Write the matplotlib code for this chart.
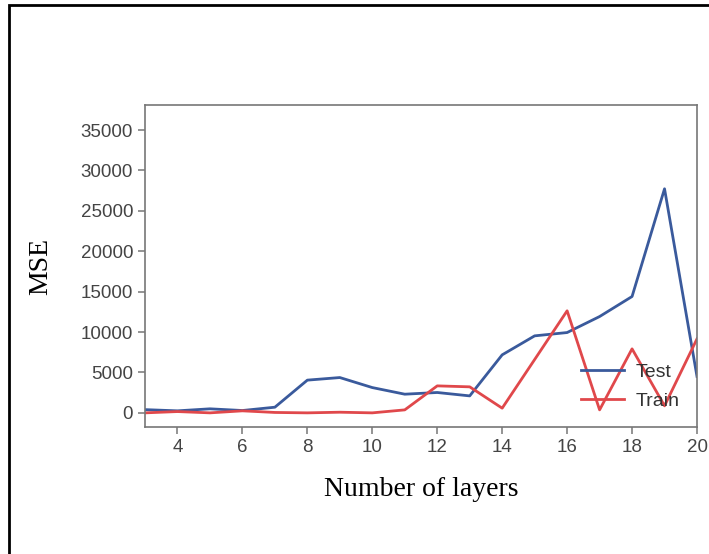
import numpy as np
import matplotlib.pyplot as plt
from matplotlib.patches import Rectangle

layers = np.arange(3, 21)
mse_test = [400, 250, 500, 290, 700, 4050, 4370, 3130, 2310, 2520, 2100,
            7180, 9530, 9940, 11920, 14400, 27730, 4500]
mse_train = [0, 160, 0, 250, 50, 0, 80, 0, 370, 3340, 3220,
             580, 6600, 12630, 370, 7920, 870, 9160]

plt.rcParams['font.family'] = ['Liberation Sans', 'DejaVu Sans']

fig = plt.figure(figsize=(7.09, 5.54), dpi=100)
ax = fig.add_axes([145/709, 1 - 427/554, (697-145)/709, (427-105)/554])

ax.plot(layers, mse_test, color='#3a5a9c', lw=2.0, label='Test')
ax.plot(layers, mse_train, color='#e0484b', lw=2.0, label='Train')

ax.set_xlim(3, 20)
ax.set_ylim(-1750, 38100)
ax.set_xticks(np.arange(4, 21, 2))
ax.set_yticks(np.arange(0, 35001, 5000))

for s in ax.spines.values():
    s.set_color('#777777')
    s.set_linewidth(1.2)
ax.tick_params(colors='#444444', labelsize=13.5, length=5, width=1.1)
ax.tick_params(axis='both', color='#777777')

ax.set_xlabel('Number of layers', family='Liberation Serif', fontsize=20, labelpad=15)
ax.set_ylabel('MSE', family='Liberation Serif', fontsize=20, labelpad=20)

leg = ax.legend(loc='lower right', frameon=False, fontsize=14, handlelength=2.2,
                handletextpad=0.6, bbox_to_anchor=(1.0, 0.0), labelspacing=0.55)
for t in leg.get_texts():
    t.set_color('#333333')

# outer frame
fig.patches.append(Rectangle((9/709, -0.1), 1.2, 1 - 5/554 + 0.1,
                             transform=fig.transFigure, fill=False,
                             edgecolor='black', lw=2.0, clip_on=False))

fig.savefig('out.png', dpi=100)
